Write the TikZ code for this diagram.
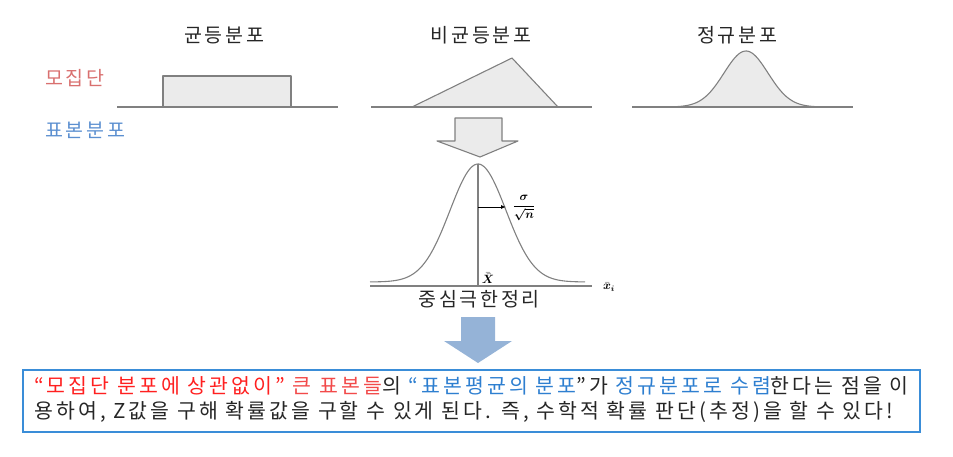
\documentclass[tikz,border=0pt]{standalone}
\usepackage{fontspec}
\usepackage{amsmath,bm}
\usetikzlibrary{arrows.meta}
\newfontfamily\kr{Noto Sans CJK KR}[LetterSpace=14]
\newfontfamily\krb{Noto Sans CJK KR}[LetterSpace=15]
\definecolor{lgray}{HTML}{808080}
\definecolor{fillg}{HTML}{EBEBEB}
\definecolor{popred}{HTML}{D9706F}
\definecolor{sampblue}{HTML}{5B8FD0}
\definecolor{txt}{HTML}{262626}
\definecolor{hired}{HTML}{FF2020}
\definecolor{hired2}{HTML}{F24A4A}
\definecolor{hiblue}{HTML}{2E7FD0}
\definecolor{arrblue}{HTML}{95B3D7}
\definecolor{boxblue}{HTML}{3A8DD8}
\begin{document}
\begin{tikzpicture}[x=1pt,y=-1pt,
  axisline/.style={draw=lgray,line width=1.4pt},
  distshape/.style={draw=lgray,fill=fillg,line width=1.1pt,line join=round},
  title/.style={font=\kr\fontsize{19.5}{22}\selectfont,text=txt,inner sep=0pt},
  bodyline/.style={font=\krb\fontsize{20.5}{22}\selectfont,text=txt,inner sep=0pt,anchor=west}]
\useasboundingbox (0,0) rectangle (953,457);
% titles
\node[title] (t1) at (224,35) {균등분포};
\node[title] (t2) at (481,35) {비균등분포};
\node[title] (t3) at (737,35) {정규분포};
\node[title,text=popred,anchor=west] (pop) at (45,78) {모집단};
\node[title,text=sampblue,anchor=west] (samp) at (45,130) {표본분포};
% uniform
\draw[distshape] (163,107) -- (163,76) -- (291,76) -- (291,107) -- cycle;
\draw[axisline] (117,107) -- (338,107);
% non-uniform
\draw[distshape] (412,107) -- (512,58) -- (558,107) -- cycle;
\draw[axisline] (371,107) -- (592,107);
% normal
\fill[fillg] plot[domain=671:820,samples=80,smooth] (\x,{107-56*exp(-((\x-746)^2)/(2*22*22))}) -- cycle;
\draw[draw=lgray,line width=1.1pt] plot[domain=671:820,samples=80,smooth] (\x,{107-56*exp(-((\x-746)^2)/(2*22*22))});
\draw[axisline] (632,107) -- (853,107);
% gray block arrow
\draw[distshape] (455,118) -- (502,118) -- (502,141) -- (518,141) -- (480,157) -- (437,141) -- (455,141) -- cycle;
% big bell
\draw[draw=lgray,line width=1.1pt] plot[domain=370:585,samples=120,smooth] (\x,{282-118*exp(-((\x-478)^2)/(2*28*28))});
\draw[axisline] (370,286) -- (592,286);
\coordinate (peak) at (478,164);
\coordinate (foot) at (478,286);
\draw[draw=lgray,line width=1.1pt] (peak) -- (foot);
\coordinate (sa) at (478,207);
\coordinate (sb) at (506,207);
\draw[-{Latex[length=5pt,width=4pt]},line width=0.9pt,black] (sa) -- (sb);
\node[inner sep=0pt] (sig) at (524,208) {\large$\bm{\dfrac{\sigma}{\sqrt{n}}}$};
\node[inner sep=0pt] (xbb) at (488,278) {\large$\bm{\bar{\bar{X}}}$};
\node[inner sep=0pt] (xi) at (609,287) {\large$\bm{\bar{x}_i}$};
\node[title] (clt) at (479,299) {중심극한정리};
% blue arrow
\fill[arrblue] (461,317) -- (495,317) -- (495,341) -- (512,341) -- (478,363) -- (444,341) -- (461,341) -- cycle;
% box
\draw[draw=boxblue,line width=1.5pt] (23,370) rectangle (920,432);
\node[bodyline] (l1) at (34,386) {\textcolor{hired}{“모집단 분포에 상관없이”} \textcolor{hired2}{큰 표본들}의 \textcolor{hiblue}{“표본평균의 분포}”가 \textcolor{hiblue}{정규분포로 수렴}한다는 점을 이};
\node[bodyline] (l2) at (34,412) {용하여, Z값을 구해 확률값을 구할 수 있게 된다. 즉, 수학적 확률 판단(추정)을 할 수 있다!};
\end{tikzpicture}
\end{document}
